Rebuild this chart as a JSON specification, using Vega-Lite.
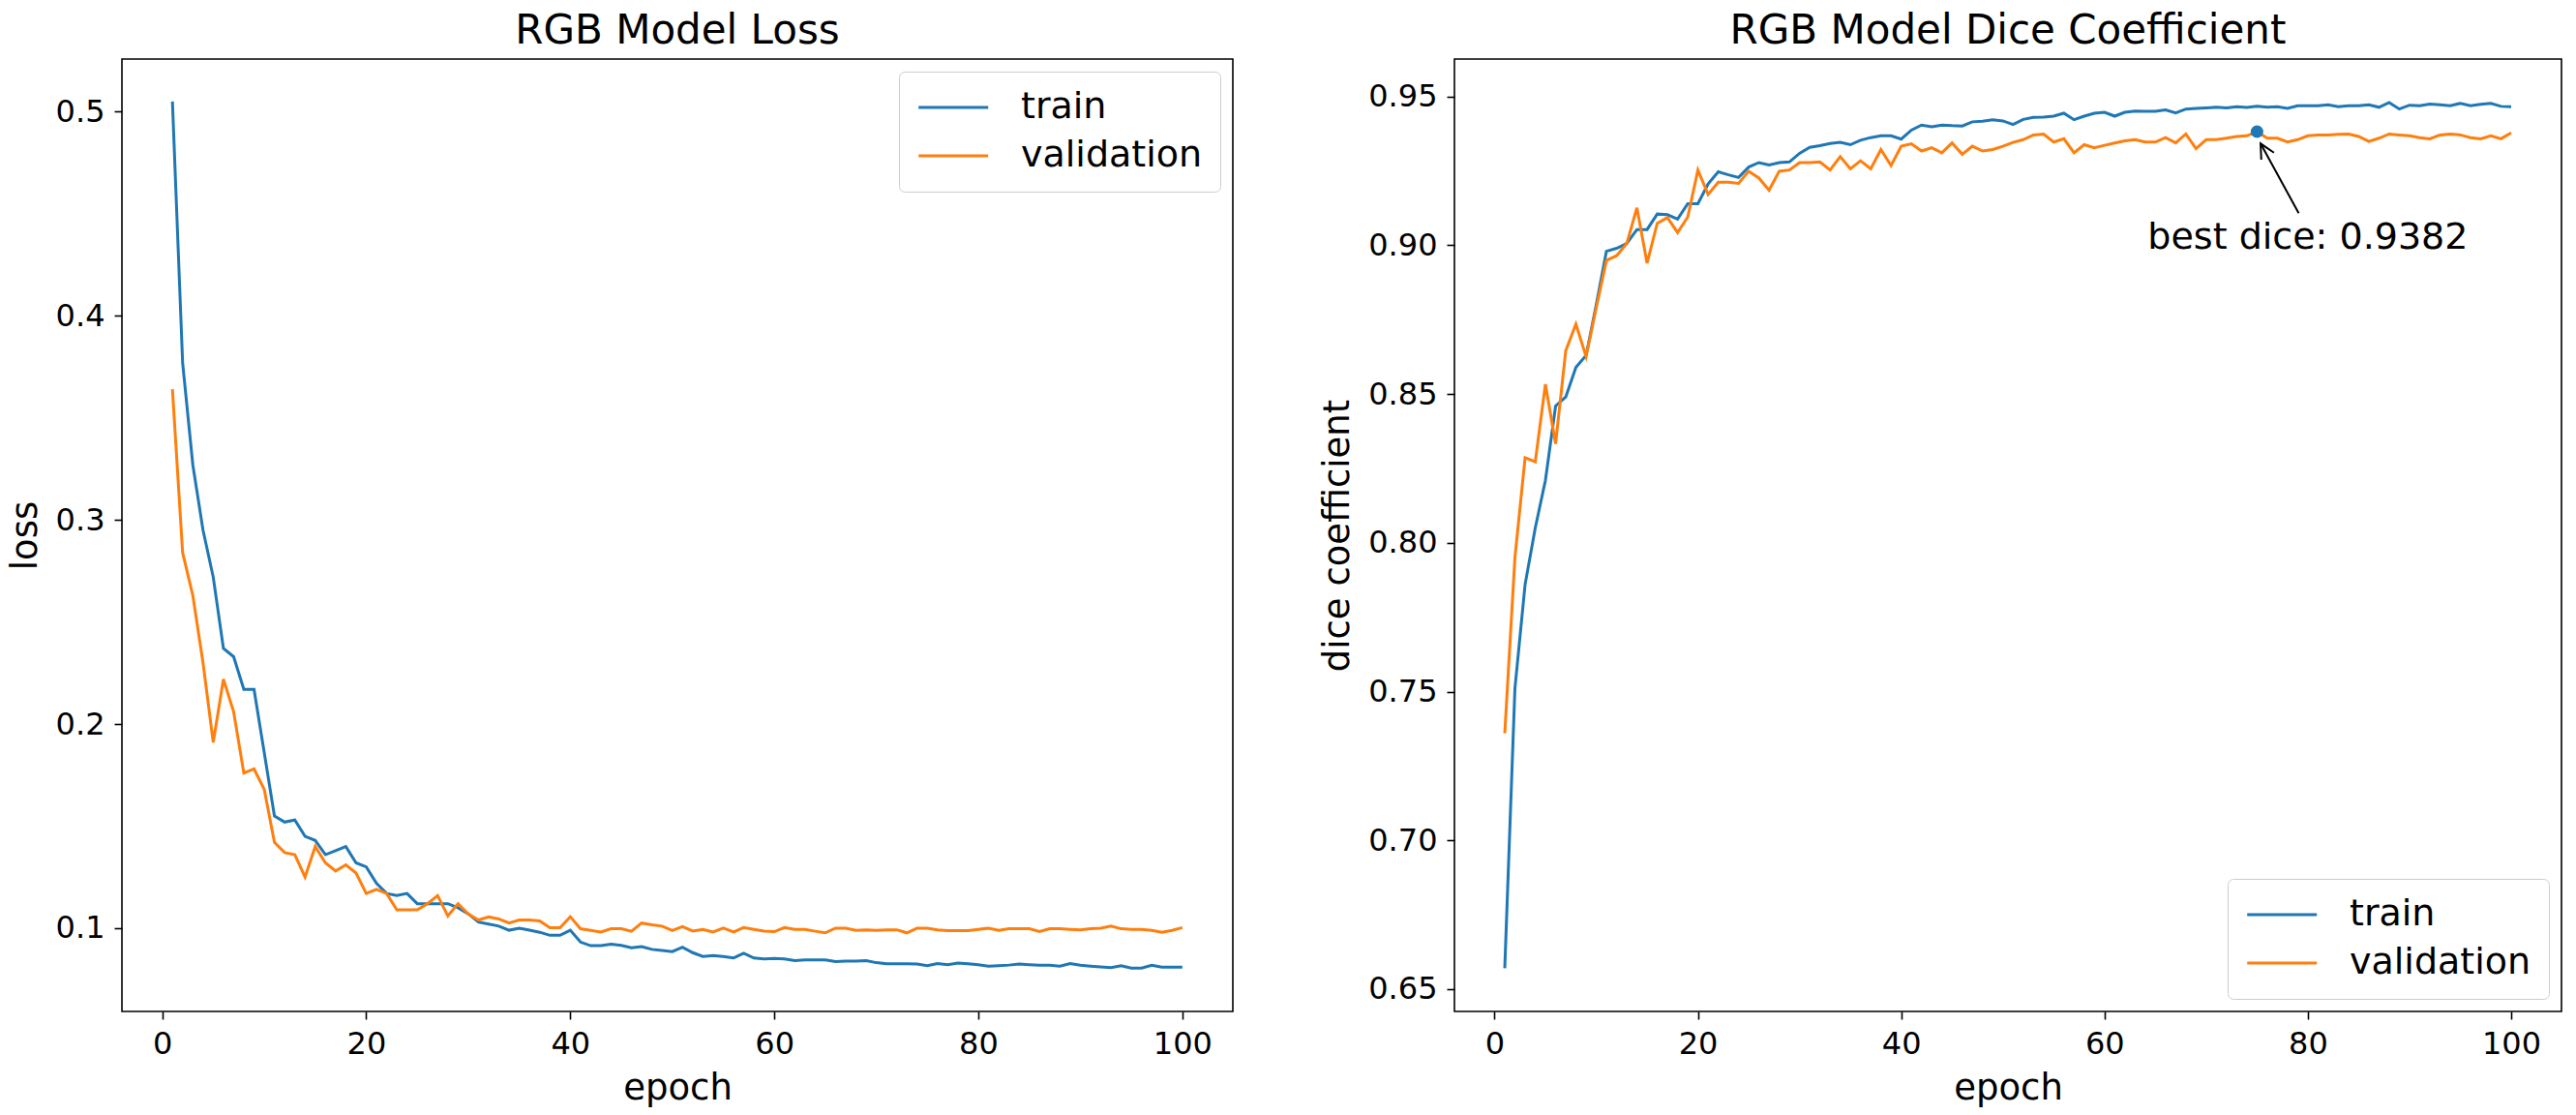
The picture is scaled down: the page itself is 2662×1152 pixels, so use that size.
{
  "$schema": "https://vega.github.io/schema/vega-lite/v6.json",
  "background": "white",
  "padding": {"left": 6, "top": 10, "right": 17, "bottom": 10},
  "config": {
    "font": "DejaVu Sans",
    "view": {"stroke": "#000000", "strokeWidth": 1.6},
    "axis": {"grid": false, "domain": false, "tickColor": "#000000", "tickSize": 8, "tickWidth": 1.6, "labelFontSize": 32, "labelColor": "#000000", "titleFontSize": 37, "titleFontWeight": "normal", "titleColor": "#000000", "labelPadding": 10, "titlePadding": 12, "labelFont": "DejaVu Sans", "titleFont": "DejaVu Sans"},
    "title": {"fontSize": 42, "fontWeight": "normal", "color": "#000000", "font": "DejaVu Sans", "offset": 7, "baseline": "alphabetic"},
    "legend": {"labelFontSize": 38, "labelFont": "DejaVu Sans", "labelColor": "#000000", "labelLimit": 500, "rowPadding": 12, "padding": 18, "fillColor": "#ffffff", "strokeColor": "#cccccc", "cornerRadius": 6, "offset": 13}
  },
  "datasets": {
    "hist": [
      {"epoch":1,"set":"train","loss":0.505,"dice":0.657},{"epoch":2,"set":"train","loss":0.377,"dice":0.751},{"epoch":3,"set":"train","loss":0.327,"dice":0.786},{"epoch":4,"set":"train","loss":0.295,"dice":0.805},{"epoch":5,"set":"train","loss":0.272,"dice":0.821},
      {"epoch":6,"set":"train","loss":0.237,"dice":0.846},{"epoch":7,"set":"train","loss":0.233,"dice":0.849},{"epoch":8,"set":"train","loss":0.217,"dice":0.859},{"epoch":9,"set":"train","loss":0.217,"dice":0.863},{"epoch":10,"set":"train","loss":0.186,"dice":0.880},
      {"epoch":11,"set":"train","loss":0.155,"dice":0.898},{"epoch":12,"set":"train","loss":0.152,"dice":0.899},{"epoch":13,"set":"train","loss":0.153,"dice":0.9006},{"epoch":14,"set":"train","loss":0.145,"dice":0.9053},{"epoch":15,"set":"train","loss":0.143,"dice":0.9053},
      {"epoch":16,"set":"train","loss":0.136,"dice":0.9105},{"epoch":17,"set":"train","loss":0.138,"dice":0.9103},{"epoch":18,"set":"train","loss":0.140,"dice":0.9088},{"epoch":19,"set":"train","loss":0.132,"dice":0.914},{"epoch":20,"set":"train","loss":0.130,"dice":0.914},
      {"epoch":21,"set":"train","loss":0.122,"dice":0.9206},{"epoch":22,"set":"train","loss":0.117,"dice":0.9247},{"epoch":23,"set":"train","loss":0.116,"dice":0.9237},{"epoch":24,"set":"train","loss":0.117,"dice":0.9228},{"epoch":25,"set":"train","loss":0.112,"dice":0.9263},
      {"epoch":26,"set":"train","loss":0.112,"dice":0.9278},{"epoch":27,"set":"train","loss":0.112,"dice":0.927},{"epoch":28,"set":"train","loss":0.112,"dice":0.9278},{"epoch":29,"set":"train","loss":0.110,"dice":0.928},{"epoch":30,"set":"train","loss":0.107,"dice":0.9309},
      {"epoch":31,"set":"train","loss":0.103,"dice":0.9329},{"epoch":32,"set":"train","loss":0.102,"dice":0.9335},{"epoch":33,"set":"train","loss":0.101,"dice":0.9342},{"epoch":34,"set":"train","loss":0.099,"dice":0.9346},{"epoch":35,"set":"train","loss":0.100,"dice":0.9338},
      {"epoch":36,"set":"train","loss":0.099,"dice":0.9353},{"epoch":37,"set":"train","loss":0.098,"dice":0.9362},{"epoch":38,"set":"train","loss":0.0965,"dice":0.9368},{"epoch":39,"set":"train","loss":0.0965,"dice":0.9368},{"epoch":40,"set":"train","loss":0.099,"dice":0.9357},
      {"epoch":41,"set":"train","loss":0.0932,"dice":0.9387},{"epoch":42,"set":"train","loss":0.0914,"dice":0.9404},{"epoch":43,"set":"train","loss":0.0914,"dice":0.9398},{"epoch":44,"set":"train","loss":0.0921,"dice":0.9404},{"epoch":45,"set":"train","loss":0.0916,"dice":0.9402},
      {"epoch":46,"set":"train","loss":0.0904,"dice":0.9401},{"epoch":47,"set":"train","loss":0.091,"dice":0.9415},{"epoch":48,"set":"train","loss":0.0896,"dice":0.9417},{"epoch":49,"set":"train","loss":0.0891,"dice":0.9422},{"epoch":50,"set":"train","loss":0.0885,"dice":0.9418},
      {"epoch":51,"set":"train","loss":0.0907,"dice":0.9406},{"epoch":52,"set":"train","loss":0.088,"dice":0.9423},{"epoch":53,"set":"train","loss":0.0861,"dice":0.943},{"epoch":54,"set":"train","loss":0.0866,"dice":0.9431},{"epoch":55,"set":"train","loss":0.0861,"dice":0.9434},
      {"epoch":56,"set":"train","loss":0.0854,"dice":0.9444},{"epoch":57,"set":"train","loss":0.0877,"dice":0.9422},{"epoch":58,"set":"train","loss":0.0854,"dice":0.9434},{"epoch":59,"set":"train","loss":0.0849,"dice":0.9444},{"epoch":60,"set":"train","loss":0.0852,"dice":0.9447},
      {"epoch":61,"set":"train","loss":0.0849,"dice":0.9434},{"epoch":62,"set":"train","loss":0.0841,"dice":0.9447},{"epoch":63,"set":"train","loss":0.0844,"dice":0.9451},{"epoch":64,"set":"train","loss":0.0844,"dice":0.945},{"epoch":65,"set":"train","loss":0.0844,"dice":0.945},
      {"epoch":66,"set":"train","loss":0.0836,"dice":0.9455},{"epoch":67,"set":"train","loss":0.0839,"dice":0.9445},{"epoch":68,"set":"train","loss":0.0839,"dice":0.9458},{"epoch":69,"set":"train","loss":0.0841,"dice":0.946},{"epoch":70,"set":"train","loss":0.0831,"dice":0.9462},
      {"epoch":71,"set":"train","loss":0.0825,"dice":0.9464},{"epoch":72,"set":"train","loss":0.0825,"dice":0.9462},{"epoch":73,"set":"train","loss":0.0825,"dice":0.9466},{"epoch":74,"set":"train","loss":0.0824,"dice":0.9463},{"epoch":75,"set":"train","loss":0.0816,"dice":0.9467},
      {"epoch":76,"set":"train","loss":0.0827,"dice":0.9464},{"epoch":77,"set":"train","loss":0.0821,"dice":0.9466},{"epoch":78,"set":"train","loss":0.0829,"dice":0.946},{"epoch":79,"set":"train","loss":0.0825,"dice":0.9469},{"epoch":80,"set":"train","loss":0.0821,"dice":0.9469},
      {"epoch":81,"set":"train","loss":0.0814,"dice":0.9469},{"epoch":82,"set":"train","loss":0.0816,"dice":0.9472},{"epoch":83,"set":"train","loss":0.0819,"dice":0.9466},{"epoch":84,"set":"train","loss":0.0824,"dice":0.9469},{"epoch":85,"set":"train","loss":0.0821,"dice":0.9469},
      {"epoch":86,"set":"train","loss":0.0818,"dice":0.9472},{"epoch":87,"set":"train","loss":0.0818,"dice":0.9464},{"epoch":88,"set":"train","loss":0.0814,"dice":0.948},{"epoch":89,"set":"train","loss":0.0827,"dice":0.9458},{"epoch":90,"set":"train","loss":0.0818,"dice":0.9471},
      {"epoch":91,"set":"train","loss":0.0814,"dice":0.9469},{"epoch":92,"set":"train","loss":0.081,"dice":0.9475},{"epoch":93,"set":"train","loss":0.0807,"dice":0.9472},{"epoch":94,"set":"train","loss":0.0816,"dice":0.9469},{"epoch":95,"set":"train","loss":0.0804,"dice":0.9477},
      {"epoch":96,"set":"train","loss":0.0804,"dice":0.9469},{"epoch":97,"set":"train","loss":0.0818,"dice":0.9474},{"epoch":98,"set":"train","loss":0.0809,"dice":0.9477},{"epoch":99,"set":"train","loss":0.0809,"dice":0.9467},{"epoch":100,"set":"train","loss":0.0809,"dice":0.9466},
      {"epoch":1,"set":"validation","loss":0.364,"dice":0.736},{"epoch":2,"set":"validation","loss":0.284,"dice":0.795},{"epoch":3,"set":"validation","loss":0.263,"dice":0.8286},{"epoch":4,"set":"validation","loss":0.230,"dice":0.8272},{"epoch":5,"set":"validation","loss":0.191,"dice":0.8533},
      {"epoch":6,"set":"validation","loss":0.222,"dice":0.8333},{"epoch":7,"set":"validation","loss":0.206,"dice":0.8646},{"epoch":8,"set":"validation","loss":0.176,"dice":0.8735},{"epoch":9,"set":"validation","loss":0.178,"dice":0.8626},{"epoch":10,"set":"validation","loss":0.168,"dice":0.879},
      {"epoch":11,"set":"validation","loss":0.142,"dice":0.8949},{"epoch":12,"set":"validation","loss":0.137,"dice":0.8965},{"epoch":13,"set":"validation","loss":0.136,"dice":0.9006},{"epoch":14,"set":"validation","loss":0.125,"dice":0.9126},{"epoch":15,"set":"validation","loss":0.140,"dice":0.894},
      {"epoch":16,"set":"validation","loss":0.132,"dice":0.9074},{"epoch":17,"set":"validation","loss":0.128,"dice":0.9093},{"epoch":18,"set":"validation","loss":0.131,"dice":0.9043},{"epoch":19,"set":"validation","loss":0.127,"dice":0.9095},{"epoch":20,"set":"validation","loss":0.117,"dice":0.9253},
      {"epoch":21,"set":"validation","loss":0.119,"dice":0.9171},{"epoch":22,"set":"validation","loss":0.117,"dice":0.9212},{"epoch":23,"set":"validation","loss":0.109,"dice":0.9212},{"epoch":24,"set":"validation","loss":0.109,"dice":0.9208},{"epoch":25,"set":"validation","loss":0.109,"dice":0.9249},
      {"epoch":26,"set":"validation","loss":0.112,"dice":0.9226},{"epoch":27,"set":"validation","loss":0.116,"dice":0.9185},{"epoch":28,"set":"validation","loss":0.106,"dice":0.9249},{"epoch":29,"set":"validation","loss":0.112,"dice":0.9253},{"epoch":30,"set":"validation","loss":0.107,"dice":0.9278},
      {"epoch":31,"set":"validation","loss":0.104,"dice":0.9278},{"epoch":32,"set":"validation","loss":0.1055,"dice":0.928},{"epoch":33,"set":"validation","loss":0.1045,"dice":0.9253},{"epoch":34,"set":"validation","loss":0.1025,"dice":0.9298},{"epoch":35,"set":"validation","loss":0.104,"dice":0.9257},
      {"epoch":36,"set":"validation","loss":0.104,"dice":0.9284},{"epoch":37,"set":"validation","loss":0.1035,"dice":0.9257},{"epoch":38,"set":"validation","loss":0.1002,"dice":0.9322},{"epoch":39,"set":"validation","loss":0.1002,"dice":0.9268},{"epoch":40,"set":"validation","loss":0.1056,"dice":0.9333},
      {"epoch":41,"set":"validation","loss":0.0997,"dice":0.9341},{"epoch":42,"set":"validation","loss":0.0989,"dice":0.9317},{"epoch":43,"set":"validation","loss":0.0981,"dice":0.9328},{"epoch":44,"set":"validation","loss":0.0997,"dice":0.9311},{"epoch":45,"set":"validation","loss":0.0997,"dice":0.9344},
      {"epoch":46,"set":"validation","loss":0.0985,"dice":0.9306},{"epoch":47,"set":"validation","loss":0.1025,"dice":0.9333},{"epoch":48,"set":"validation","loss":0.1016,"dice":0.9317},{"epoch":49,"set":"validation","loss":0.101,"dice":0.9322},{"epoch":50,"set":"validation","loss":0.0989,"dice":0.9333},
      {"epoch":51,"set":"validation","loss":0.1008,"dice":0.9346},{"epoch":52,"set":"validation","loss":0.0986,"dice":0.9355},{"epoch":53,"set":"validation","loss":0.0994,"dice":0.9371},{"epoch":54,"set":"validation","loss":0.0981,"dice":0.9374},{"epoch":55,"set":"validation","loss":0.1,"dice":0.9347},
      {"epoch":56,"set":"validation","loss":0.0981,"dice":0.9358},{"epoch":57,"set":"validation","loss":0.1003,"dice":0.9311},{"epoch":58,"set":"validation","loss":0.0994,"dice":0.9338},{"epoch":59,"set":"validation","loss":0.0986,"dice":0.9328},{"epoch":60,"set":"validation","loss":0.0983,"dice":0.9336},
      {"epoch":61,"set":"validation","loss":0.1003,"dice":0.9344},{"epoch":62,"set":"validation","loss":0.0994,"dice":0.9351},{"epoch":63,"set":"validation","loss":0.0994,"dice":0.9355},{"epoch":64,"set":"validation","loss":0.0985,"dice":0.9347},{"epoch":65,"set":"validation","loss":0.0977,"dice":0.9347},
      {"epoch":66,"set":"validation","loss":0.1,"dice":0.9362},{"epoch":67,"set":"validation","loss":0.1,"dice":0.9344},{"epoch":68,"set":"validation","loss":0.0989,"dice":0.9374},{"epoch":69,"set":"validation","loss":0.0992,"dice":0.9325},{"epoch":70,"set":"validation","loss":0.0989,"dice":0.9355},
      {"epoch":71,"set":"validation","loss":0.0991,"dice":0.9355},{"epoch":72,"set":"validation","loss":0.0992,"dice":0.936},{"epoch":73,"set":"validation","loss":0.0977,"dice":0.9366},{"epoch":74,"set":"validation","loss":0.1,"dice":0.9368},{"epoch":75,"set":"validation","loss":0.1,"dice":0.9382},
      {"epoch":76,"set":"validation","loss":0.0992,"dice":0.936},{"epoch":77,"set":"validation","loss":0.0988,"dice":0.936},{"epoch":78,"set":"validation","loss":0.0988,"dice":0.9347},{"epoch":79,"set":"validation","loss":0.0988,"dice":0.9355},{"epoch":80,"set":"validation","loss":0.0994,"dice":0.9368},
      {"epoch":81,"set":"validation","loss":0.1,"dice":0.9371},{"epoch":82,"set":"validation","loss":0.0989,"dice":0.9371},{"epoch":83,"set":"validation","loss":0.0997,"dice":0.9373},{"epoch":84,"set":"validation","loss":0.0997,"dice":0.9374},{"epoch":85,"set":"validation","loss":0.0997,"dice":0.9366},
      {"epoch":86,"set":"validation","loss":0.0983,"dice":0.9349},{"epoch":87,"set":"validation","loss":0.0997,"dice":0.936},{"epoch":88,"set":"validation","loss":0.0997,"dice":0.9374},{"epoch":89,"set":"validation","loss":0.0994,"dice":0.9371},{"epoch":90,"set":"validation","loss":0.0992,"dice":0.9368},
      {"epoch":91,"set":"validation","loss":0.0997,"dice":0.9362},{"epoch":92,"set":"validation","loss":0.1,"dice":0.9358},{"epoch":93,"set":"validation","loss":0.101,"dice":0.9371},{"epoch":94,"set":"validation","loss":0.0997,"dice":0.9374},{"epoch":95,"set":"validation","loss":0.0994,"dice":0.9371},
      {"epoch":96,"set":"validation","loss":0.0994,"dice":0.9362},{"epoch":97,"set":"validation","loss":0.0989,"dice":0.9358},{"epoch":98,"set":"validation","loss":0.098,"dice":0.9368},{"epoch":99,"set":"validation","loss":0.0989,"dice":0.9358},{"epoch":100,"set":"validation","loss":0.1003,"dice":0.9378}
    ]
  },
  "bounds": "flush",
  "spacing": 229,
  "resolve": {"legend": {"color": "independent"}},
  "hconcat": [
    {
      "width": 1148,
      "height": 984,
      "title": "RGB Model Loss",
      "data": {"name": "hist"},
      "mark": {"type": "line", "strokeWidth": 3},
      "encoding": {
        "x": {"field": "epoch", "type": "quantitative", "scale": {"domain": [-3.95, 104.95], "nice": false, "zero": false}, "axis": {"values": [0, 20, 40, 60, 80, 100], "title": "epoch"}},
        "y": {"field": "loss", "type": "quantitative", "scale": {"domain": [0.0592, 0.5258], "nice": false, "zero": false}, "axis": {"values": [0.1, 0.2, 0.3, 0.4, 0.5], "format": ".1f", "title": "loss"}},
        "color": {"field": "set", "type": "nominal", "scale": {"domain": ["train", "validation"], "range": ["#1f77b4", "#ff7f0e"]},
          "legend": {"orient": "top-right", "title": null, "symbolType": "M-1.4,0H4.6", "symbolSize": 576, "symbolStrokeWidth": 3, "labelOffset": 70}}
      }
    },
    {
      "width": 1144,
      "height": 984,
      "title": "RGB Model Dice Coefficient",
      "layer": [
        {
          "data": {"name": "hist"},
          "mark": {"type": "line", "strokeWidth": 3},
          "encoding": {
            "x": {"field": "epoch", "type": "quantitative", "scale": {"domain": [-3.95, 104.95], "nice": false, "zero": false}, "axis": {"values": [0, 20, 40, 60, 80, 100], "title": "epoch"}},
            "y": {"field": "dice", "type": "quantitative", "scale": {"domain": [0.6425, 0.9626], "nice": false, "zero": false}, "axis": {"values": [0.65, 0.7, 0.75, 0.8, 0.85, 0.9, 0.95], "format": ".2f", "title": "dice coefficient"}},
            "color": {"field": "set", "type": "nominal", "scale": {"domain": ["train", "validation"], "range": ["#1f77b4", "#ff7f0e"]},
              "legend": {"orient": "bottom-right", "title": null, "symbolType": "M-1.4,0H4.6", "symbolSize": 576, "symbolStrokeWidth": 3, "labelOffset": 70}}
          }
        },
        {
          "data": {"values": [{}]},
          "mark": {"type": "rule", "stroke": "#000000", "strokeWidth": 2},
          "encoding": {"x": {"datum": 79.1, "type": "quantitative"}, "y": {"datum": 0.9108, "type": "quantitative"}, "x2": {"datum": 75.35}, "y2": {"datum": 0.9342}}
        },
        {
          "data": {"values": [{}]},
          "mark": {"type": "point", "shape": "M-0.5,1L0,0L0.5,1", "filled": false, "stroke": "#000000", "strokeWidth": 2, "size": 900, "angle": -29, "opacity": 1},
          "encoding": {"x": {"datum": 75.35, "type": "quantitative"}, "y": {"datum": 0.9342, "type": "quantitative"}}
        },
        {
          "data": {"values": [{}]},
          "mark": {"type": "point", "shape": "circle", "filled": true, "color": "#1f77b4", "size": 170, "opacity": 1},
          "encoding": {"x": {"datum": 75, "type": "quantitative"}, "y": {"datum": 0.9382, "type": "quantitative"}}
        },
        {
          "data": {"values": [{}]},
          "mark": {"type": "text", "text": "best dice: 0.9382", "fontSize": 38, "align": "center", "baseline": "middle", "font": "DejaVu Sans", "color": "#000000"},
          "encoding": {"x": {"datum": 80, "type": "quantitative"}, "y": {"datum": 0.9023, "type": "quantitative"}}
        }
      ]
    }
  ]
}
